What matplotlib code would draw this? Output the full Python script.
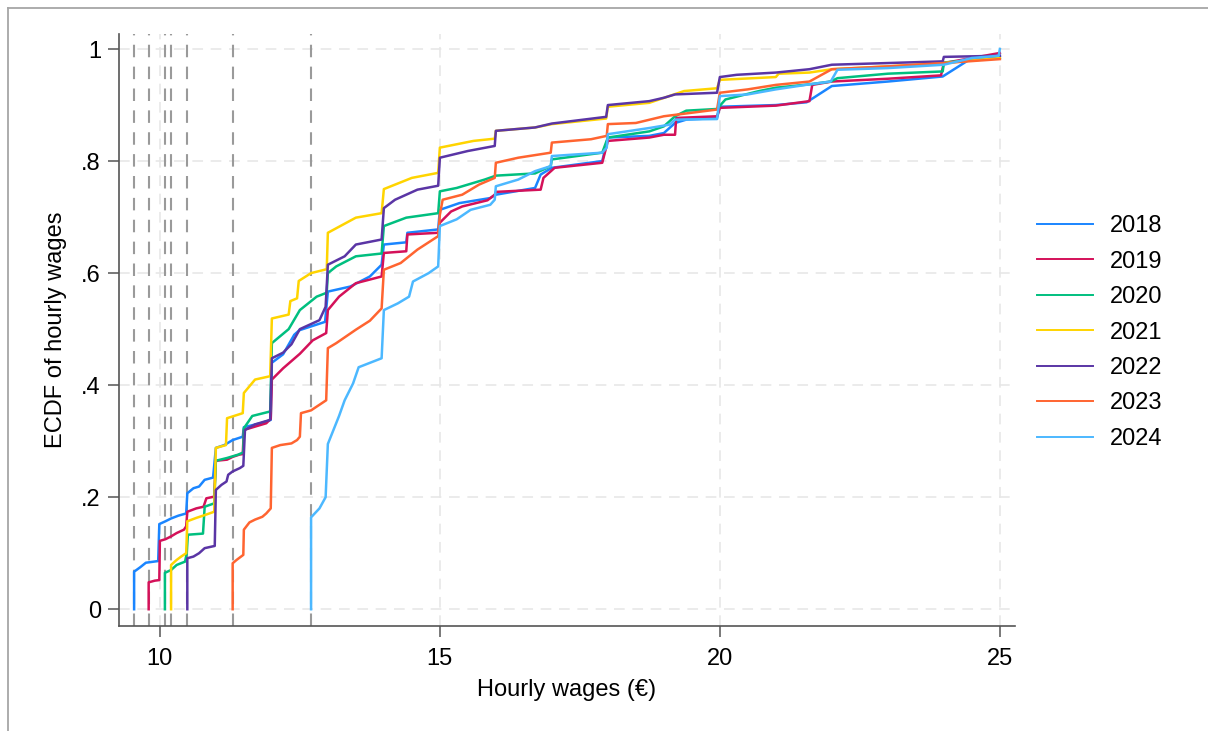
import matplotlib
matplotlib.use("Agg")
import matplotlib.pyplot as plt
from matplotlib.lines import Line2D

plt.rcParams['font.family'] = ['Liberation Sans', 'DejaVu Sans']

years = ['2018', '2019', '2020', '2021', '2022', '2023', '2024']
colors = ['#1a85ff', '#d41159', '#00bf7f', '#ffd400', '#5a35a5', '#ff6430', '#4cb8ff']

# minimum wage per year (dashed reference lines)
min_wages = [9.54, 9.80, 10.09, 10.20, 10.49, 11.30, 12.70]

# ECDF points (wage, share)
wage_2018 = [9.54, 9.54, 9.65, 9.75, 9.97, 9.99, 10.1, 10.2, 10.33, 10.47, 10.49, 10.6, 10.7, 10.8, 10.95,
             11.0, 11.15, 11.3, 11.48, 11.5, 11.8, 11.98, 12.0, 12.2, 12.4, 12.49, 12.95, 13.0, 13.4, 13.75,
             13.96, 14.0, 14.4, 14.42, 14.97, 15.0, 15.35, 15.9, 16.0, 16.7, 16.8, 17.0, 17.9, 18.0, 18.74,
             19.0, 19.2, 19.4, 19.95, 20.0, 21.0, 21.55, 22.0, 23.0, 23.98, 24.5, 25.0]
ecdf_2018 = [0, 0.067, 0.075, 0.083, 0.086, 0.152, 0.157, 0.162, 0.167, 0.171, 0.207, 0.216, 0.219, 0.231, 0.235,
             0.288, 0.293, 0.302, 0.308, 0.325, 0.332, 0.338, 0.44, 0.455, 0.49, 0.498, 0.513, 0.567, 0.576, 0.594,
             0.615, 0.651, 0.655, 0.672, 0.678, 0.713, 0.725, 0.734, 0.74, 0.752, 0.776, 0.788, 0.80, 0.842, 0.845,
             0.85, 0.868, 0.874, 0.877, 0.897, 0.900, 0.905, 0.934, 0.942, 0.951, 0.984, 0.988]

wage_2019 = [9.80, 9.80, 9.91, 9.99, 10.0, 10.1, 10.2, 10.3, 10.43, 10.47, 10.49, 10.65, 10.78, 10.83, 10.97,
             11.0, 11.2, 11.3, 11.42, 11.48, 11.5, 11.9, 11.98, 12.0, 12.2, 12.5, 12.73, 12.97, 13.0, 13.2,
             13.5, 13.96, 14.0, 14.4, 14.42, 14.97, 15.0, 15.2, 15.4, 15.85, 15.98, 16.0, 16.8, 16.85, 17.05,
             17.9, 18.0, 18.74, 19.0, 19.2, 19.22, 19.95, 20.0, 21.0, 21.6, 21.65, 22.0, 23.0, 23.95, 24.0, 25.0]
ecdf_2019 = [0, 0.048, 0.051, 0.052, 0.122, 0.125, 0.130, 0.136, 0.142, 0.148, 0.174, 0.18, 0.183, 0.198, 0.201,
             0.265, 0.267, 0.272, 0.276, 0.277, 0.32, 0.332, 0.34, 0.41, 0.43, 0.456, 0.48, 0.493, 0.534, 0.558,
             0.582, 0.594, 0.636, 0.639, 0.669, 0.672, 0.69, 0.71, 0.719, 0.73, 0.740, 0.745, 0.749, 0.770, 0.788,
             0.797, 0.836, 0.842, 0.847, 0.847, 0.877, 0.88, 0.895, 0.899, 0.907, 0.936, 0.942, 0.947, 0.953, 0.975, 0.993]

wage_2020 = [10.09, 10.09, 10.2, 10.3, 10.45, 10.48, 10.5, 10.77, 10.8, 10.97, 11.0, 11.2, 11.4, 11.49, 11.5,
             11.65, 11.97, 12.0, 12.3, 12.5, 12.8, 12.98, 13.0, 13.15, 13.5, 13.96, 14.0, 14.4, 14.97, 15.0,
             15.3, 15.8, 16.0, 16.7, 16.98, 17.0, 17.9, 18.0, 18.74, 19.0, 19.2, 19.4, 19.95, 20.1, 20.7,
             21.0, 21.6, 21.98, 22.1, 23.0, 23.98, 24.0, 25.0]
ecdf_2020 = [0, 0.065, 0.07, 0.079, 0.085, 0.10, 0.133, 0.135, 0.183, 0.189, 0.265, 0.27, 0.276, 0.28, 0.323,
             0.345, 0.353, 0.475, 0.50, 0.534, 0.558, 0.565, 0.60, 0.612, 0.63, 0.635, 0.684, 0.699, 0.707, 0.746,
             0.752, 0.767, 0.774, 0.778, 0.791, 0.803, 0.815, 0.842, 0.853, 0.862, 0.88, 0.89, 0.893, 0.91, 0.925,
             0.931, 0.937, 0.942, 0.948, 0.956, 0.960, 0.976, 0.984]

wage_2021 = [10.20, 10.20, 10.3, 10.38, 10.47, 10.49, 10.65, 10.8, 10.97, 11.0, 11.18, 11.2, 11.48, 11.5, 11.7,
             11.97, 12.0, 12.3, 12.33, 12.45, 12.48, 12.7, 12.98, 13.0, 13.5, 13.96, 14.0, 14.5, 14.97, 15.0,
             15.6, 15.98, 16.0, 16.7, 17.0, 17.97, 18.0, 18.74, 19.36, 19.95, 20.0, 21.0, 21.05, 21.6, 22.0,
             23.0, 24.0, 25.0]
ecdf_2021 = [0, 0.079, 0.088, 0.094, 0.1, 0.157, 0.163, 0.168, 0.174, 0.288, 0.293, 0.341, 0.35, 0.386, 0.41,
             0.416, 0.519, 0.526, 0.55, 0.555, 0.586, 0.6, 0.607, 0.672, 0.699, 0.707, 0.750, 0.77, 0.779, 0.824,
             0.836, 0.84, 0.854, 0.86, 0.866, 0.876, 0.897, 0.904, 0.925, 0.93, 0.945, 0.95, 0.956, 0.958, 0.964,
             0.969, 0.975, 0.984]

wage_2022 = [10.49, 10.49, 10.6, 10.7, 10.8, 10.98, 11.0, 11.1, 11.19, 11.22, 11.3, 11.43, 11.49, 11.52, 11.7,
             11.97, 12.0, 12.2, 12.35, 12.5, 12.85, 12.96, 13.0, 13.3, 13.5, 13.96, 14.0, 14.2, 14.6, 14.97,
             15.0, 15.5, 15.98, 16.0, 16.7, 17.0, 17.97, 18.0, 18.74, 19.0, 19.2, 19.95, 20.0, 20.3, 21.0,
             21.6, 22.0, 23.0, 23.98, 24.0, 25.0]
ecdf_2022 = [0, 0.091, 0.094, 0.1, 0.109, 0.113, 0.213, 0.222, 0.228, 0.24, 0.246, 0.252, 0.256, 0.32, 0.33,
             0.338, 0.448, 0.458, 0.473, 0.50, 0.516, 0.54, 0.615, 0.63, 0.651, 0.66, 0.716, 0.731, 0.749, 0.756,
             0.806, 0.818, 0.827, 0.854, 0.86, 0.867, 0.879, 0.9, 0.907, 0.913, 0.919, 0.922, 0.950, 0.954, 0.958,
             0.964, 0.972, 0.975, 0.978, 0.986, 0.988]

wage_2023 = [11.30, 11.30, 11.37, 11.45, 11.49, 11.5, 11.6, 11.7, 11.83, 11.9, 11.98, 12.0, 12.15, 12.35, 12.45,
             12.5, 12.52, 12.7, 12.85, 12.97, 13.0, 13.15, 13.5, 13.75, 13.96, 14.0, 14.3, 14.6, 14.97, 15.0,
             15.05, 15.4, 15.7, 15.98, 16.0, 16.4, 16.98, 17.0, 17.7, 17.98, 18.0, 18.5, 19.0, 19.95, 20.0,
             20.5, 21.0, 21.6, 22.0, 23.0, 24.0, 25.0]
ecdf_2023 = [0, 0.082, 0.088, 0.094, 0.097, 0.142, 0.155, 0.16, 0.165, 0.171, 0.18, 0.288, 0.293, 0.296, 0.302,
             0.308, 0.35, 0.355, 0.365, 0.373, 0.466, 0.475, 0.499, 0.515, 0.537, 0.606, 0.618, 0.642, 0.666, 0.704,
             0.731, 0.74, 0.758, 0.770, 0.797, 0.806, 0.815, 0.833, 0.839, 0.845, 0.866, 0.868, 0.88, 0.892, 0.922,
             0.928, 0.936, 0.942, 0.964, 0.969, 0.975, 0.982]

wage_2024 = [12.70, 12.70, 12.85, 12.96, 13.0, 13.1, 13.2, 13.3, 13.45, 13.55, 13.96, 14.0, 14.25, 14.45, 14.52,
             14.8, 14.97, 15.0, 15.3, 15.55, 15.9, 15.98, 16.0, 16.4, 16.7, 16.98, 17.0, 17.9, 17.98, 18.0,
             18.74, 19.1, 19.2, 19.95, 20.0, 20.5, 21.0, 21.6, 21.98, 22.1, 23.0, 24.0, 24.5, 24.98, 25.0]
ecdf_2024 = [0, 0.164, 0.18, 0.20, 0.295, 0.32, 0.345, 0.373, 0.403, 0.432, 0.448, 0.534, 0.546, 0.558, 0.585,
             0.600, 0.612, 0.684, 0.696, 0.713, 0.722, 0.731, 0.755, 0.767, 0.782, 0.791, 0.809, 0.815, 0.824, 0.848,
             0.859, 0.865, 0.874, 0.875, 0.916, 0.919, 0.928, 0.937, 0.942, 0.963, 0.966, 0.972, 0.984, 0.988, 1.0]

wages = [wage_2018, wage_2019, wage_2020, wage_2021, wage_2022, wage_2023, wage_2024]
ecdfs = [ecdf_2018, ecdf_2019, ecdf_2020, ecdf_2021, ecdf_2022, ecdf_2023, ecdf_2024]

xticks = [10, 15, 20, 25]
yticks = [0, 0.2, 0.4, 0.6, 0.8, 1.0]
ytick_labels = ['0', '.2', '.4', '.6', '.8', '1']

fig = plt.figure(figsize=(12.08, 7.31), dpi=100)
ax = fig.add_axes([0.0985, 0.1436, 0.7417, 0.81])

ax.set_axisbelow(True)
ax.grid(True, color='#e6e6e6', linestyle=(0, (7, 5)), linewidth=1.1)

for mw in min_wages:
    ax.axvline(mw, color='#9a9a9a', linestyle=(0, (6, 4.5)), linewidth=1.5, zorder=1.5)

for yr, col, x, y in zip(years, colors, wages, ecdfs):
    ax.plot(x, y, color=col, linewidth=1.8, label=yr, zorder=3)

ax.set_xlim(9.27, 25.27)
ax.set_ylim(-0.03, 1.027)
ax.set_xticks(xticks)
ax.set_yticks(yticks)
ax.set_yticklabels(ytick_labels)
ax.tick_params(axis='both', labelsize=17, length=8, width=1.1, color='#555555')
ax.tick_params(axis='x', pad=8)
ax.tick_params(axis='y', pad=5)

for side in ['top', 'right']:
    ax.spines[side].set_visible(False)
for side in ['left', 'bottom']:
    ax.spines[side].set_color('#555555')
    ax.spines[side].set_linewidth(1.2)

ax.set_xlabel('Hourly wages (€)', fontsize=17, labelpad=6)
ax.set_ylabel('ECDF of hourly wages', fontsize=17, labelpad=10)

leg = ax.legend(loc='center left', bbox_to_anchor=(0.8584, 0.5451), bbox_transform=fig.transFigure,
                frameon=False, fontsize=17, handlelength=2.37, handletextpad=0.72,
                labelspacing=0.57, borderpad=0, borderaxespad=0)
for h in leg.get_lines():
    h.set_linewidth(1.4)

# outer frame (top and left edges visible in the original crop)
fig.add_artist(Line2D([8 / 1208, 8 / 1208], [0, 1 - 8 / 731], transform=fig.transFigure,
                      color='#a6a6a6', linewidth=1.3))
fig.add_artist(Line2D([8 / 1208, 1], [1 - 8 / 731, 1 - 8 / 731], transform=fig.transFigure,
                      color='#a6a6a6', linewidth=1.3))

fig.savefig('out.png', dpi=100)
